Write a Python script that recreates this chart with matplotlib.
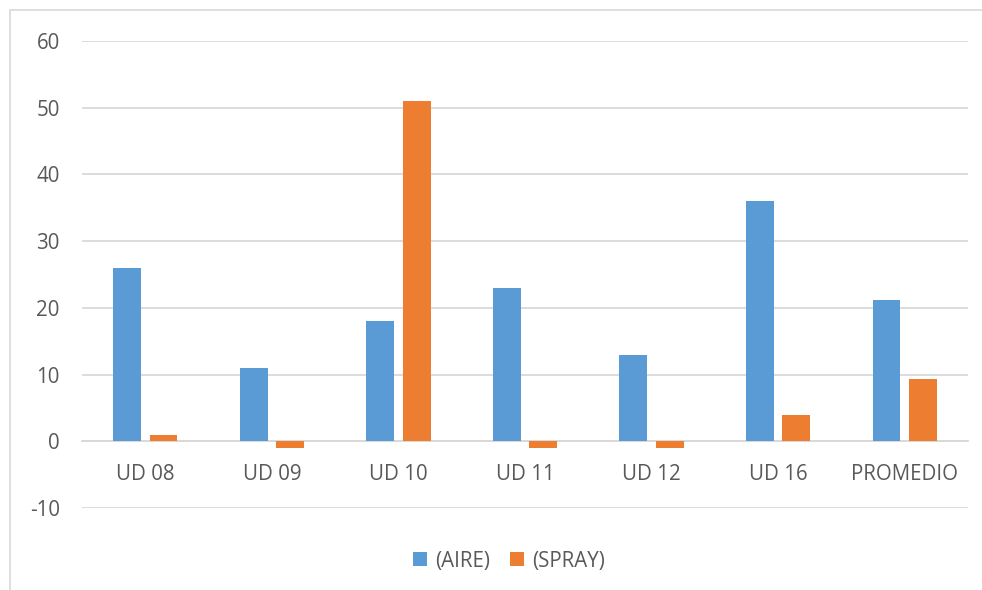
import numpy as np
import matplotlib.pyplot as plt
from matplotlib.patches import Rectangle

categorias = ['UD 08', 'UD 09', 'UD 10', 'UD 11', 'UD 12', 'UD 16', 'PROMEDIO']
aire = [26, 11, 18, 23, 13, 36, 21.2]
spray = [1, -1, 51, -1, -1, 4, 9.3]

plt.rcParams['font.family'] = ['Open Sans', 'DejaVu Sans']
plt.rcParams['axes.unicode_minus'] = False
gris = '#595959'
tam = 14.8

fig = plt.figure(figsize=(9.82, 5.90), dpi=100)
ax = fig.add_axes([82 / 982, 1 - 508 / 590, 886 / 982, (508 - 41) / 590])

x = np.arange(len(categorias))
ancho = 0.22
ax.bar(x - 0.144, aire, ancho, color='#5B9BD5', label='(AIRE)', zorder=3)
ax.bar(x + 0.144, spray, ancho, color='#ED7D31', label='(SPRAY)', zorder=3)

ax.set_xlim(-0.5, len(categorias) - 0.5)
ax.set_ylim(-10, 60)
ax.set_yticks(range(-10, 61, 10))
ax.yaxis.grid(True, color='#D9D9D9', linewidth=1.3, zorder=0)

for lado in ['top', 'right', 'left']:
    ax.spines[lado].set_visible(False)
ax.spines['bottom'].set_position(('data', 0))
ax.spines['bottom'].set_color('#D9D9D9')
ax.spines['bottom'].set_linewidth(1.3)

ax.set_xticks(x)
ax.set_xticklabels(categorias)
ax.tick_params(axis='x', length=0, pad=16, labelsize=tam, labelcolor=gris)
ax.tick_params(axis='y', length=0, pad=16, labelsize=tam, labelcolor=gris)

fig.legend(loc='center', bbox_to_anchor=(509 / 982, 1 - 561 / 590), ncol=2, frameon=False,
           fontsize=tam, labelcolor=gris, handlelength=0.68, handleheight=0.68,
           handletextpad=0.4, columnspacing=1.0)

# borde del área del gráfico
fig.patches.append(Rectangle((10 / 982, -0.01), 1.0, 1 - 10 / 590 + 0.01,
                             transform=fig.transFigure, fill=False,
                             edgecolor='#D9D9D9', linewidth=1.2))

fig.savefig('out.png', dpi=100, facecolor='white')
